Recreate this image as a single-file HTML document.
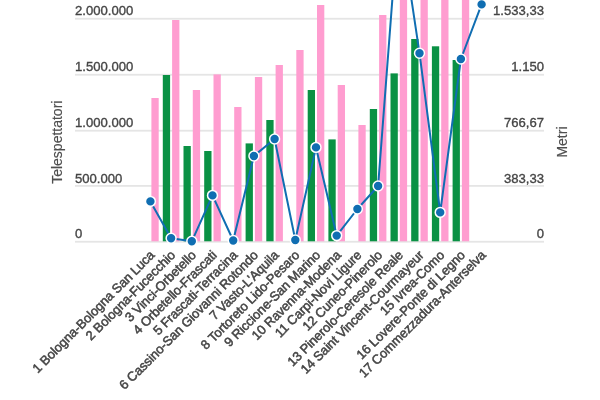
<!DOCTYPE html>
<html><head><meta charset="utf-8"><style>
html,body{margin:0;padding:0;background:#fff;width:600px;height:400px;overflow:hidden}
svg{display:block;will-change:transform}
text{font-family:"Liberation Sans",sans-serif;fill:#454545;stroke:#454545;stroke-width:0.45px}
.t{font-size:13.1px;stroke-width:0.35px}
.a{font-size:14px;stroke-width:0.15px;fill:#4f4f4f;stroke:#4f4f4f}
.x{font-size:13px;letter-spacing:-0.1px;stroke-width:0.5px}
</style></head><body>
<svg width="600" height="400" viewBox="0 0 600 400">
<rect x="75" y="240.85" width="469" height="1.8" fill="#e5e5e5"/>
<rect x="75" y="185" width="469" height="1.8" fill="#e5e5e5"/>
<rect x="75" y="129.8" width="469" height="1.8" fill="#e5e5e5"/>
<rect x="75" y="73.85" width="469" height="1.8" fill="#e5e5e5"/>
<rect x="75" y="17.85" width="469" height="1.8" fill="#e5e5e5"/>
<text x="75" y="238.35" class="t">0</text>
<text x="544" y="238.35" class="t" text-anchor="end">0</text>
<text x="75" y="182.5" class="t">500.000</text>
<text x="544" y="182.5" class="t" text-anchor="end">383,33</text>
<text x="75" y="127.3" class="t">1.000.000</text>
<text x="544" y="127.3" class="t" text-anchor="end">766,67</text>
<text x="75" y="71.35" class="t">1.500.000</text>
<text x="544" y="71.35" class="t" text-anchor="end">1.150</text>
<text x="75" y="15.35" class="t">2.000.000</text>
<text x="544" y="15.35" class="t" text-anchor="end">1.533,33</text>
<rect x="151.4" y="98" width="7.3" height="143.3" fill="#ff9dd0"/>
<rect x="162.8" y="75" width="7.3" height="166.3" fill="#0a9144"/>
<rect x="172.1" y="20" width="7.3" height="221.3" fill="#ff9dd0"/>
<rect x="183.5" y="146" width="7.3" height="95.3" fill="#0a9144"/>
<rect x="192.8" y="90" width="7.3" height="151.3" fill="#ff9dd0"/>
<rect x="204.2" y="151" width="7.3" height="90.3" fill="#0a9144"/>
<rect x="213.5" y="74.4" width="7.3" height="166.9" fill="#ff9dd0"/>
<rect x="234.2" y="107" width="7.3" height="134.3" fill="#ff9dd0"/>
<rect x="245.6" y="143.4" width="7.3" height="97.9" fill="#0a9144"/>
<rect x="254.9" y="77" width="7.3" height="164.3" fill="#ff9dd0"/>
<rect x="266.3" y="120" width="7.3" height="121.3" fill="#0a9144"/>
<rect x="275.6" y="65" width="7.3" height="176.3" fill="#ff9dd0"/>
<rect x="296.3" y="50" width="7.3" height="191.3" fill="#ff9dd0"/>
<rect x="307.7" y="90" width="7.3" height="151.3" fill="#0a9144"/>
<rect x="317" y="5" width="7.3" height="236.3" fill="#ff9dd0"/>
<rect x="328.4" y="139.4" width="7.3" height="101.9" fill="#0a9144"/>
<rect x="337.7" y="85" width="7.3" height="156.3" fill="#ff9dd0"/>
<rect x="358.4" y="125" width="7.3" height="116.3" fill="#ff9dd0"/>
<rect x="369.8" y="109" width="7.3" height="132.3" fill="#0a9144"/>
<rect x="379.1" y="15" width="7.3" height="226.3" fill="#ff9dd0"/>
<rect x="390.5" y="73.4" width="7.3" height="167.9" fill="#0a9144"/>
<rect x="399.8" y="-50" width="7.3" height="291.3" fill="#ff9dd0"/>
<rect x="411.2" y="39" width="7.3" height="202.3" fill="#0a9144"/>
<rect x="420.5" y="-50" width="7.3" height="291.3" fill="#ff9dd0"/>
<rect x="431.9" y="46.3" width="7.3" height="195" fill="#0a9144"/>
<rect x="441.2" y="-50" width="7.3" height="291.3" fill="#ff9dd0"/>
<rect x="452.6" y="60" width="7.3" height="181.3" fill="#0a9144"/>
<rect x="461.9" y="-50" width="7.3" height="291.3" fill="#ff9dd0"/>
<path d="M150.4,201.4 L171.1,238.3 L191.8,241.3 L212.5,195.4 L233.2,240.5 L253.9,156 L274.6,139 L295.3,240 L316,147.4 L336.7,235.6 L357.4,209 L378.1,186 L398.8,-85 L419.5,53.2 L440.2,212.4 L460.9,59 L481.6,4.4" fill="none" stroke="#106eb2" stroke-width="2" stroke-linejoin="round"/>
<circle cx="150.4" cy="201.4" r="4.95" fill="#106eb2" stroke="#fff" stroke-width="1.5"/>
<circle cx="171.1" cy="238.3" r="4.95" fill="#106eb2" stroke="#fff" stroke-width="1.5"/>
<circle cx="191.8" cy="241.3" r="4.95" fill="#106eb2" stroke="#fff" stroke-width="1.5"/>
<circle cx="212.5" cy="195.4" r="4.95" fill="#106eb2" stroke="#fff" stroke-width="1.5"/>
<circle cx="233.2" cy="240.5" r="4.95" fill="#106eb2" stroke="#fff" stroke-width="1.5"/>
<circle cx="253.9" cy="156" r="4.95" fill="#106eb2" stroke="#fff" stroke-width="1.5"/>
<circle cx="274.6" cy="139" r="4.95" fill="#106eb2" stroke="#fff" stroke-width="1.5"/>
<circle cx="295.3" cy="240" r="4.95" fill="#106eb2" stroke="#fff" stroke-width="1.5"/>
<circle cx="316" cy="147.4" r="4.95" fill="#106eb2" stroke="#fff" stroke-width="1.5"/>
<circle cx="336.7" cy="235.6" r="4.95" fill="#106eb2" stroke="#fff" stroke-width="1.5"/>
<circle cx="357.4" cy="209" r="4.95" fill="#106eb2" stroke="#fff" stroke-width="1.5"/>
<circle cx="378.1" cy="186" r="4.95" fill="#106eb2" stroke="#fff" stroke-width="1.5"/>
<circle cx="398.8" cy="-85" r="4.95" fill="#106eb2" stroke="#fff" stroke-width="1.5"/>
<circle cx="419.5" cy="53.2" r="4.95" fill="#106eb2" stroke="#fff" stroke-width="1.5"/>
<circle cx="440.2" cy="212.4" r="4.95" fill="#106eb2" stroke="#fff" stroke-width="1.5"/>
<circle cx="460.9" cy="59" r="4.95" fill="#106eb2" stroke="#fff" stroke-width="1.5"/>
<circle cx="481.6" cy="4.4" r="4.95" fill="#106eb2" stroke="#fff" stroke-width="1.5"/>
<text class="a" transform="translate(62,142.2) rotate(-90)" text-anchor="middle">Telespettatori</text>
<text class="a" transform="translate(567,142.05) rotate(-90)" text-anchor="middle">Metri</text>
<text class="x" transform="translate(155.4,256) rotate(-45)" text-anchor="end">1 Bologna-Bologna San Luca</text>
<text class="x" transform="translate(176.1,256) rotate(-45)" text-anchor="end">2 Bologna-Fucecchio</text>
<text class="x" transform="translate(196.8,256) rotate(-45)" text-anchor="end">3 Vinci-Orbetello</text>
<text class="x" transform="translate(217.5,256) rotate(-45)" text-anchor="end">4 Orbetello-Frascati</text>
<text class="x" transform="translate(238.2,256) rotate(-45)" text-anchor="end">5 Frascati-Terracina</text>
<text class="x" transform="translate(258.9,256) rotate(-45)" text-anchor="end">6 Cassino-San Giovanni Rotondo</text>
<text class="x" transform="translate(279.6,256) rotate(-45)" text-anchor="end">7 Vasto-L&#39;Aquila</text>
<text class="x" transform="translate(300.3,256) rotate(-45)" text-anchor="end">8 Tortoreto Lido-Pesaro</text>
<text class="x" transform="translate(321,256) rotate(-45)" text-anchor="end">9 Riccione-San Marino</text>
<text class="x" transform="translate(341.7,256) rotate(-45)" text-anchor="end">10 Ravenna-Modena</text>
<text class="x" transform="translate(362.4,256) rotate(-45)" text-anchor="end">11 Carpi-Novi Ligure</text>
<text class="x" transform="translate(383.1,256) rotate(-45)" text-anchor="end">12 Cuneo-Pinerolo</text>
<text class="x" transform="translate(403.8,256) rotate(-45)" text-anchor="end">13 Pinerolo-Ceresole Reale</text>
<text class="x" transform="translate(424.5,256) rotate(-45)" text-anchor="end">14 Saint Vincent-Courmayeur</text>
<text class="x" transform="translate(445.2,256) rotate(-45)" text-anchor="end">15 Ivrea-Como</text>
<text class="x" transform="translate(465.9,256) rotate(-45)" text-anchor="end">16 Lovere-Ponte di Legno</text>
<text class="x" transform="translate(486.6,256) rotate(-45)" text-anchor="end">17 Commezzadura-Anterselva</text>
</svg>
</body></html>
